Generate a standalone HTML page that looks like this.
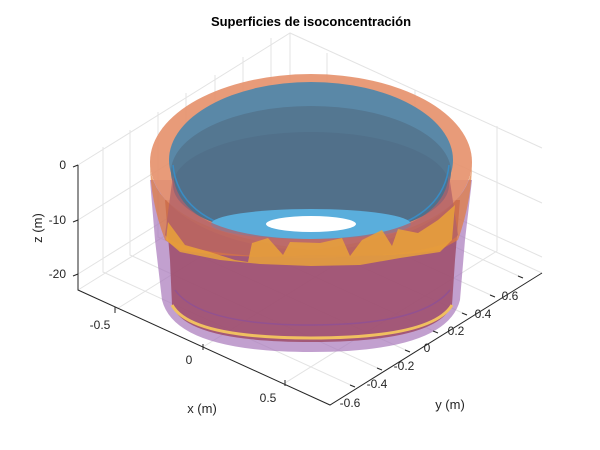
<!DOCTYPE html>
<html><head><style>
html,body{margin:0;padding:0;background:#fff;}
svg{display:block;font-family:"Liberation Sans",sans-serif;}
</style></head><body>
<svg width="600" height="450" viewBox="0 0 600 450" xmlns="http://www.w3.org/2000/svg">
<rect width="600" height="450" fill="#fff"/>
<text x="311" y="26" font-size="13" font-weight="bold" text-anchor="middle" fill="#000">Superficies de isoconcentración</text>
<g stroke="#e3e3e3" stroke-width="1" fill="none">
<path d="M290,33 L290,158"/>
<path d="M78,165 L290,33 L542,148"/>
<path d="M78,220 L290,88 L542,203"/>
<path d="M78,274 L290,142 L542,257"/>
<path d="M115,310 L327,178 L327,53"/>
<path d="M203,347 L415,215 L415,90"/>
<path d="M285,383 L497,251 L497,126"/>
<path d="M355,387 L103,272 L103,147"/>
<path d="M382,370 L130,255 L130,130"/>
<path d="M410,352 L158,237 L158,112"/>
<path d="M438,333 L186,218 L186,93"/>
<path d="M467,315 L215,200 L215,75"/>
<path d="M495,297 L243,182 L243,57"/>
<path d="M523,278 L271,163 L271,38"/>
<path d="M78,290 L290,158 L542,273"/>
</g>
<!-- outer purple -->
<path d="M150,180 L155,240 L162,300 Q175,352 311,352 Q447,352 460,300 L465,240 L472,180 Z" fill="#a878bb" opacity="0.7"/>
<!-- mauve body -->
<path d="M165,200 L170,260 L172,305 Q185,342 311,342 Q437,342 452,305 L455,260 L460,200 Z" fill="#a0506e" opacity="0.9"/>
<path d="M172,305 Q190,338 311,338 Q432,338 452,305" fill="none" stroke="#f0c060" stroke-width="3"/>
<path d="M175,290 Q200,325 311,325 Q422,325 450,290" fill="none" stroke="#8a4f9a" stroke-width="1.5" opacity="0.7"/>
<!-- orange outer ring -->
<ellipse cx="311" cy="162" rx="161" ry="88" fill="#e5906a" opacity="0.9"/>
<path d="M150,162 Q150,200 165,240 L180,250 Q240,260 311,255 Q390,258 440,250 L458,240 Q472,200 472,162 Q472,230 311,250 Q150,230 150,162 Z" fill="#e07a3a" opacity="0.7"/>
<!-- blue inner -->
<ellipse cx="311" cy="160" rx="142" ry="78" fill="#5a88a7"/>
<ellipse cx="311" cy="172" rx="140" ry="66" fill="#547791"/>
<ellipse cx="311" cy="185" rx="138" ry="53" fill="#51708a"/>
<path d="M173,165 Q180,237 311,238 Q442,237 449,165" fill="none" stroke="#3a8cc4" stroke-width="1.5"/>
<ellipse cx="311" cy="224" rx="100" ry="15" fill="#5aaedc"/>
<ellipse cx="311" cy="224" rx="45" ry="8" fill="#ffffff"/>
<!-- front of ring below blue rim: mauve-orange -->
<path d="M173,175 Q180,238 311,239 Q442,238 449,175 L458,235 Q440,256 311,258 Q182,256 165,235 Z" fill="#b0606a" opacity="0.75"/>
<!-- yellow jagged band -->
<path d="M168,222 L185,245 L210,252 L235,260 L248,262 L252,243 L268,238 L283,255 L290,242 L320,243 L342,238 L350,256 L362,240 L382,230 L392,246 L398,229 L418,233 L438,220 L455,205 L452,240 L440,252 L400,258 L360,265 L311,266 L260,264 L220,260 L180,252 L166,240 Z" fill="#e9a23a" opacity="0.85"/>
<!-- axes -->
<g stroke="#262626" stroke-width="1" fill="none">
<path d="M78,165 L78,290 L330,405 L542,273"/>
<path d="M78,165 L73,167 M78,220 L73,222 M78,274 L73,276"/>
<path d="M115,307 L115,313 M203,344 L203,350 M285,380 L285,386"/>
<path d="M355,387 L350,385 M382,370 L377,368 M410,352 L405,350 M438,333 L433,331 M467,315 L462,313 M495,297 L490,295 M523,278 L518,276"/>
</g>
<g font-size="12" fill="#262626">
<text x="66" y="169" text-anchor="end">0</text>
<text x="66" y="224" text-anchor="end">-10</text>
<text x="66" y="278" text-anchor="end">-20</text>
<text x="100" y="329" text-anchor="middle">-0.5</text>
<text x="189" y="364" text-anchor="middle">0</text>
<text x="268" y="402" text-anchor="middle">0.5</text>
<text x="350" y="407" text-anchor="middle">-0.6</text>
<text x="377" y="388" text-anchor="middle">-0.4</text>
<text x="404" y="370" text-anchor="middle">-0.2</text>
<text x="427" y="352" text-anchor="middle">0</text>
<text x="456" y="335" text-anchor="middle">0.2</text>
<text x="483" y="318" text-anchor="middle">0.4</text>
<text x="510" y="300" text-anchor="middle">0.6</text>
<text x="202" y="413" text-anchor="middle" font-size="13">x (m)</text>
<text x="450" y="409" text-anchor="middle" font-size="13">y (m)</text>
<text x="42" y="228" text-anchor="middle" font-size="13" transform="rotate(-90 42 228)">z (m)</text>
</g>
</svg>
</body></html>
